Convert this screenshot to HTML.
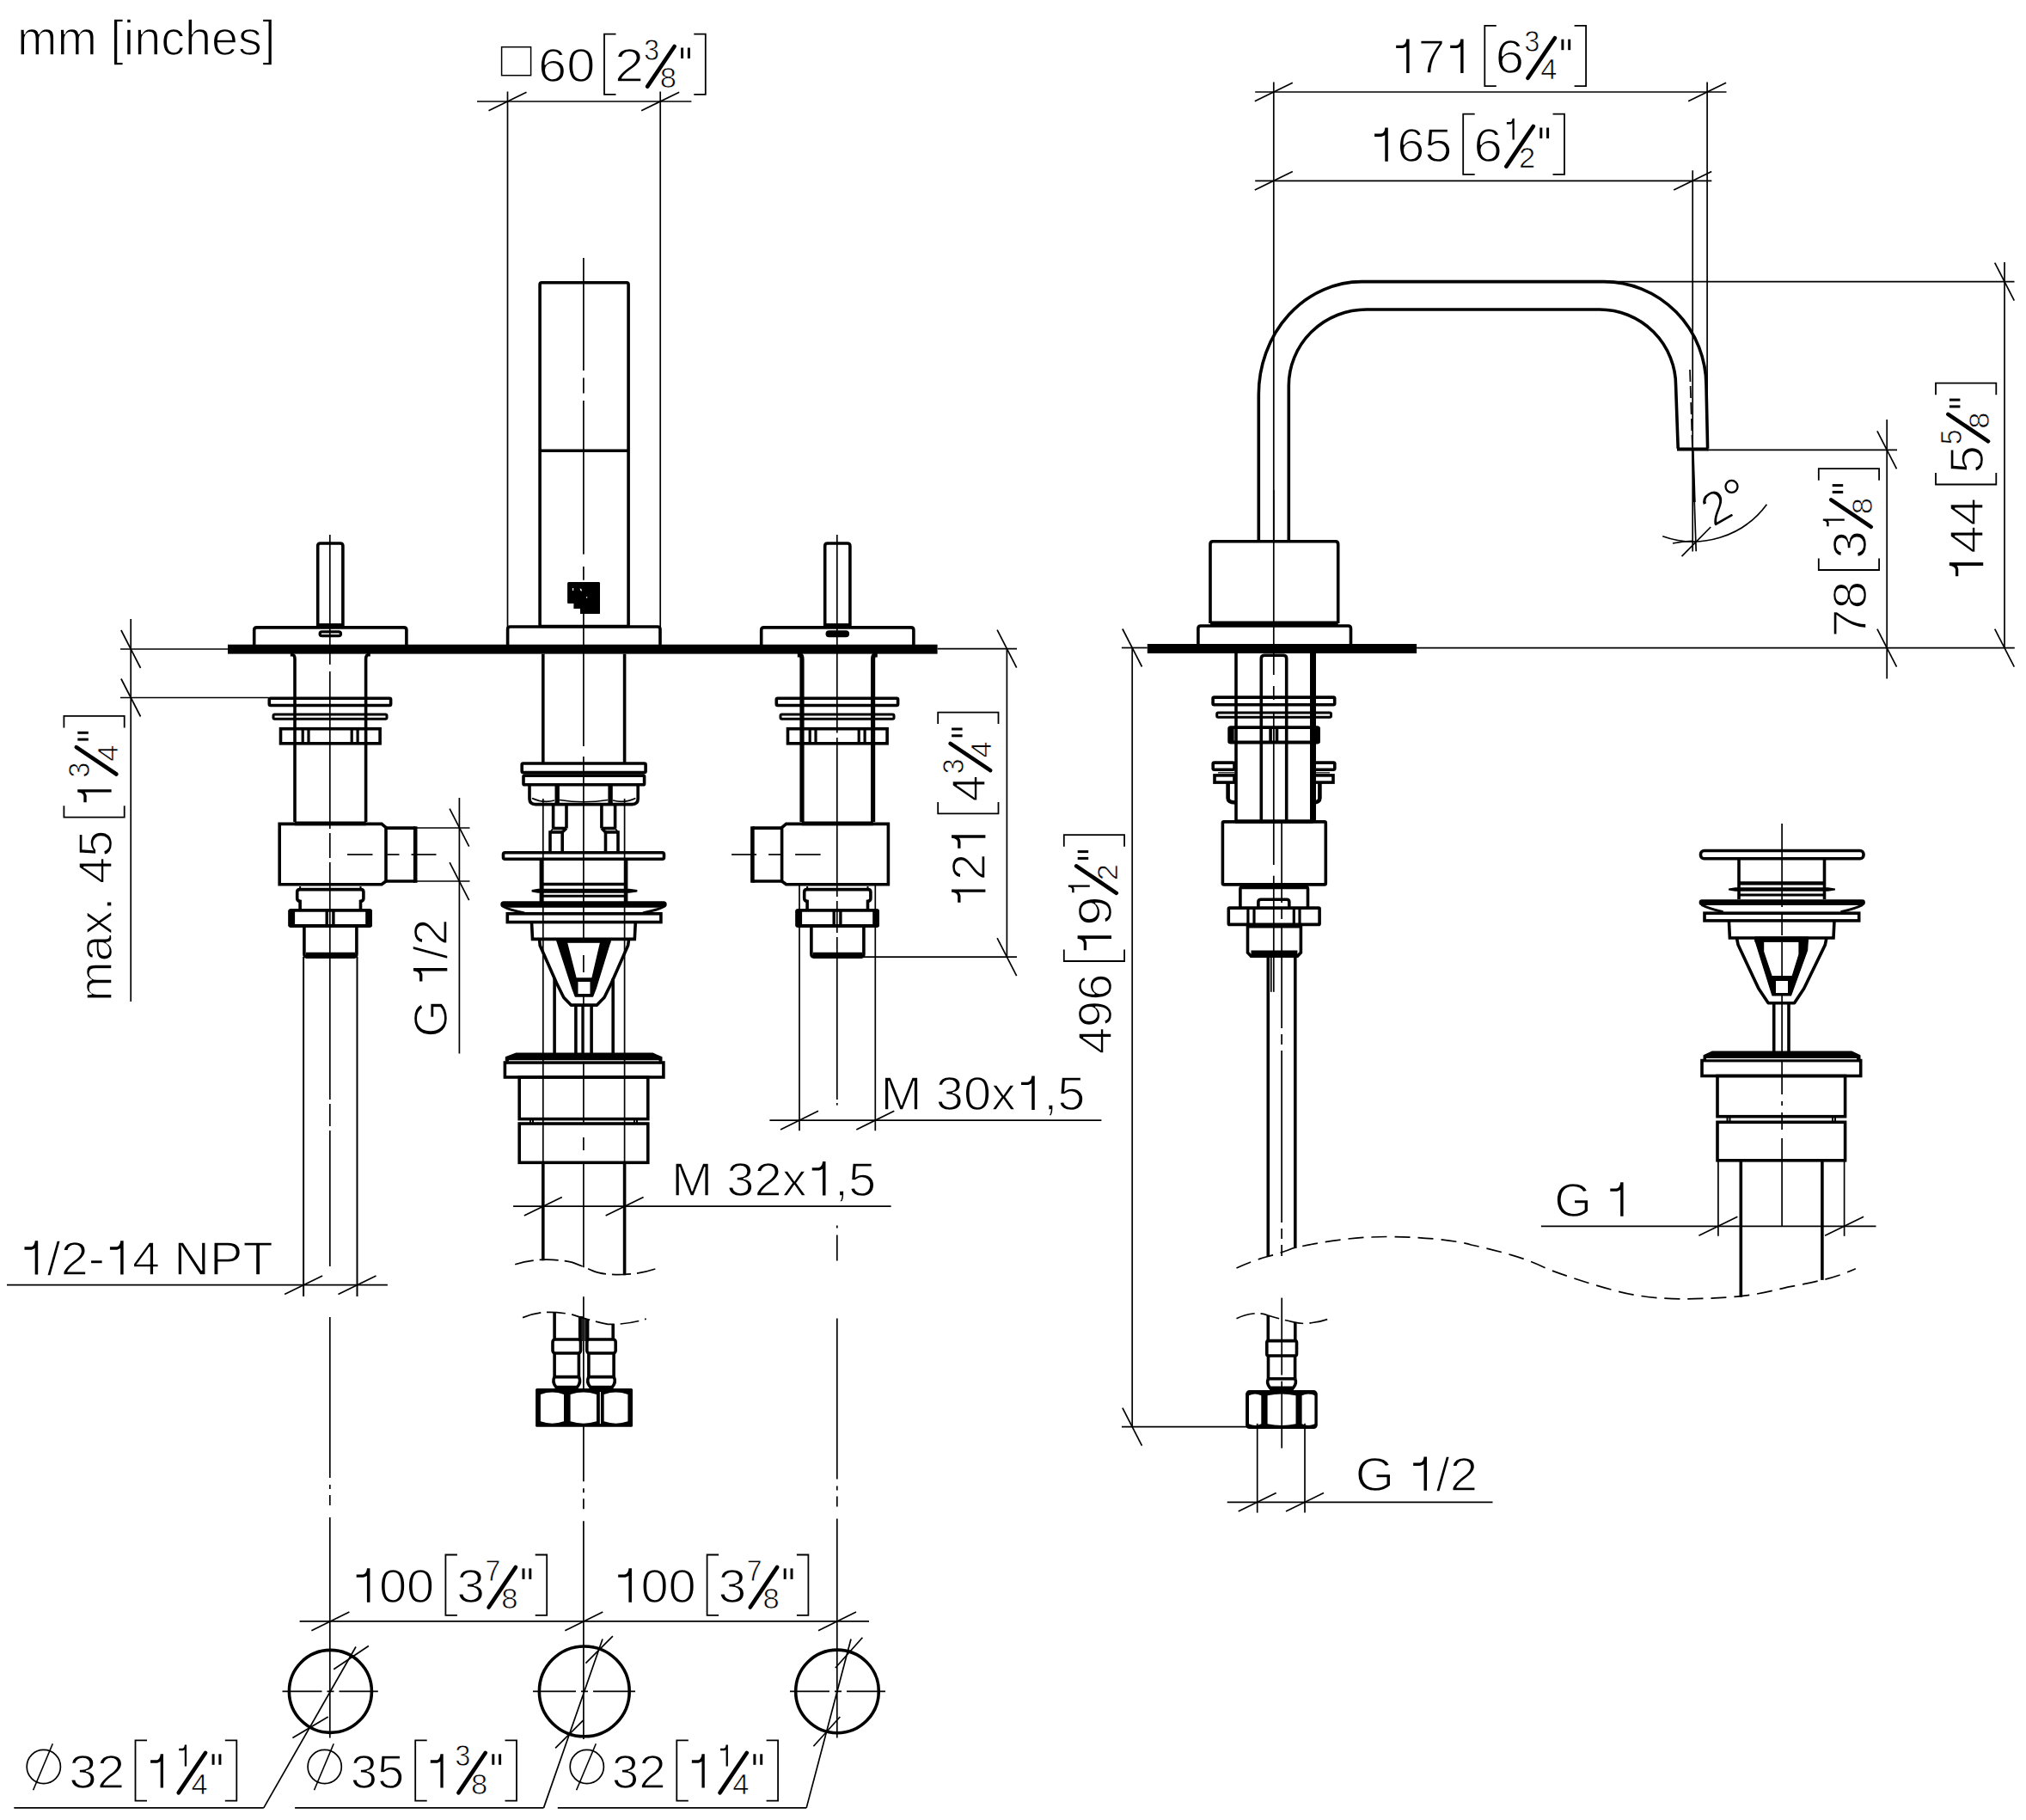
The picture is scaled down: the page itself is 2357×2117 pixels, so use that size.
<!DOCTYPE html><html><head><meta charset="utf-8"><title>drawing</title><style>html,body{margin:0;padding:0;background:#fff}svg{display:block}</style></head><body><svg width="2357" height="2117" viewBox="0 0 2357 2117" stroke="#000" fill="#000" font-family="Liberation Sans, sans-serif" shape-rendering="geometricPrecision"><style>text{stroke:#fff;stroke-width:1.4px;paint-order:normal} text.sm{stroke-width:0.7px}</style><g transform="translate(23.7,64.0) rotate(0)"><g transform="scale(0.9780,1)"><text x="-3.79" y="0" font-size="57">m</text><text x="43.70" y="0" font-size="57">m</text><text x="107.01" y="0" font-size="57">[</text><text x="122.85" y="0" font-size="57">i</text><text x="135.51" y="0" font-size="57">n</text><text x="167.21" y="0" font-size="57">c</text><text x="195.71" y="0" font-size="57">h</text><text x="227.42" y="0" font-size="57">e</text><text x="259.12" y="0" font-size="57">s</text><text x="287.62" y="0" font-size="57">]</text></g></g>
<rect x="265.0" y="749.7" width="825.6" height="10.9" rx="0" stroke-width="0" fill="#000" stroke="none"/>
<path d="M369.7,728.5 V635 Q369.7,632 372.7,632 H395.90000000000003 Q398.90000000000003,632 398.90000000000003,635 V728.5" stroke-width="3.6" fill="none" />
<line x1="369.7" y1="727.3" x2="398.9" y2="727.3" stroke-width="4.4" />
<path d="M295.70000000000005,750 V733 Q295.70000000000005,729.9 298.70000000000005,729.9 H469.9 Q472.9,729.9 472.9,733 V750" stroke-width="3.6" fill="none" />
<rect x="372.1" y="734.8" width="24.4" height="4.8" rx="2.4" stroke-width="3.2" fill="none" />
<path d="M337.8,761.8000000000001 H340.8 Q343.0,762.4 343.0,766.6 V956" stroke-width="3.6" fill="none" />
<path d="M430.8,761.8000000000001 H427.8 Q425.6,762.4 425.6,766.6 V956" stroke-width="3.6" fill="none" />
<rect x="313.3" y="812.2" width="141.3" height="8.3" rx="1.5" stroke-width="3.6" fill="none" />
<rect x="318.0" y="831.0" width="132.0" height="5.2" rx="1.5" stroke-width="3" fill="none" />
<rect x="326.5" y="847.7" width="115.6" height="17.1" rx="0" stroke-width="3.6" fill="none" />
<line x1="352.2" y1="847.7" x2="352.2" y2="864.8" stroke-width="3.2" />
<line x1="359.0" y1="847.7" x2="359.0" y2="864.8" stroke-width="3.2" />
<line x1="409.2" y1="847.7" x2="409.2" y2="864.8" stroke-width="3.2" />
<line x1="416.1" y1="847.7" x2="416.1" y2="864.8" stroke-width="3.2" />
<path d="M325.2,958.4 L444.0,958.4 L449.0,962.5 L449.0,1025.0 L444.0,1028.8 L325.2,1028.8 Z" stroke-width="3.6" fill="none" />
<line x1="342.8" y1="957.8" x2="425.8" y2="957.8" stroke-width="4.8" />
<path d="M449.0,963.1 L483.2,963.1" stroke-width="3.6" fill="none" />
<path d="M449.0,1025.0 L483.2,1025.0" stroke-width="3.6" fill="none" />
<line x1="483.2" y1="961.3" x2="483.2" y2="1026.8" stroke-width="4.6" />
<line x1="404.0" y1="994.0" x2="433.5" y2="994.0" stroke-width="1.7" />
<line x1="450.5" y1="994.0" x2="464.5" y2="994.0" stroke-width="1.7" />
<line x1="478.5" y1="994.0" x2="507.5" y2="994.0" stroke-width="1.7" />
<path d="M348.7,1034.6 H419.90000000000003 Q422.90000000000003,1034.6 422.90000000000003,1037.6 V1045 Q422.90000000000003,1048 419.5,1048.4 V1058 M349.1,1058 V1048.4 Q345.7,1048 345.7,1045 V1037.6 Q345.7,1034.6 348.7,1034.6" stroke-width="3.6" fill="none" />
<line x1="349.1" y1="1031.0" x2="349.1" y2="1034.0" stroke-width="2" />
<line x1="419.5" y1="1031.0" x2="419.5" y2="1034.0" stroke-width="2" />
<rect x="337.3" y="1058.9" width="93.7" height="18.1" rx="1" stroke-width="3.8" fill="none" />
<rect x="335.4" y="1058.0" width="7.7" height="20.0" rx="1.5" stroke-width="0" fill="#000" stroke="none"/>
<rect x="425.2" y="1058.0" width="7.7" height="20.0" rx="1.5" stroke-width="0" fill="#000" stroke="none"/>
<line x1="380.2" y1="1058.0" x2="380.2" y2="1078.0" stroke-width="3.4" />
<line x1="387.9" y1="1058.0" x2="387.9" y2="1078.0" stroke-width="3.4" />
<path d="M353.90000000000003,1078 V1110 Q353.90000000000003,1113 356.90000000000003,1113 H411.90000000000003 Q414.90000000000003,1113 414.90000000000003,1110 V1078" stroke-width="3.6" fill="none" />
<line x1="355.8" y1="1111.3" x2="413.0" y2="1111.3" stroke-width="7" />
<path d="M959.6999999999999,728.5 V635 Q959.6999999999999,632 962.6999999999999,632 H985.9 Q988.9,632 988.9,635 V728.5" stroke-width="3.6" fill="none" />
<line x1="959.7" y1="727.3" x2="988.9" y2="727.3" stroke-width="4.4" />
<path d="M885.6999999999999,750 V733 Q885.6999999999999,729.9 888.6999999999999,729.9 H1059.8999999999999 Q1062.8999999999999,729.9 1062.8999999999999,733 V750" stroke-width="3.6" fill="none" />
<rect x="962.1" y="734.8" width="24.4" height="4.8" rx="2.4" stroke-width="3.2" fill="#000" />
<path d="M927.8,761.8000000000001 H930.8 Q933.0,762.4 933.0,766.6 V956" stroke-width="5.2" fill="none" />
<path d="M1020.8,761.8000000000001 H1017.8 Q1015.5999999999999,762.4 1015.5999999999999,766.6 V956" stroke-width="5.2" fill="none" />
<rect x="903.3" y="812.2" width="141.3" height="8.3" rx="1.5" stroke-width="3.6" fill="none" />
<rect x="908.0" y="831.0" width="132.0" height="5.2" rx="1.5" stroke-width="3" fill="none" />
<rect x="916.5" y="847.7" width="115.6" height="17.1" rx="0" stroke-width="3.6" fill="none" />
<line x1="942.2" y1="847.7" x2="942.2" y2="864.8" stroke-width="3.2" />
<line x1="949.0" y1="847.7" x2="949.0" y2="864.8" stroke-width="3.2" />
<line x1="999.2" y1="847.7" x2="999.2" y2="864.8" stroke-width="3.2" />
<line x1="1006.1" y1="847.7" x2="1006.1" y2="864.8" stroke-width="3.2" />
<path d="M1033.4,958.4 L914.6,958.4 L909.6,962.5 L909.6,1025.0 L914.6,1028.8 L1033.4,1028.8 Z" stroke-width="3.6" fill="none" />
<line x1="932.8" y1="957.8" x2="1015.8" y2="957.8" stroke-width="4.8" />
<path d="M909.6,963.1 L875.4,963.1" stroke-width="3.6" fill="none" />
<path d="M909.6,1025.0 L875.4,1025.0" stroke-width="3.6" fill="none" />
<line x1="875.4" y1="961.3" x2="875.4" y2="1026.8" stroke-width="4.6" />
<line x1="851.1" y1="994.0" x2="880.1" y2="994.0" stroke-width="1.7" />
<line x1="894.1" y1="994.0" x2="908.1" y2="994.0" stroke-width="1.7" />
<line x1="925.1" y1="994.0" x2="954.6" y2="994.0" stroke-width="1.7" />
<path d="M938.6999999999999,1034.6 H1009.9 Q1012.9,1034.6 1012.9,1037.6 V1045 Q1012.9,1048 1009.5,1048.4 V1058 M939.0999999999999,1058 V1048.4 Q935.6999999999999,1048 935.6999999999999,1045 V1037.6 Q935.6999999999999,1034.6 938.6999999999999,1034.6" stroke-width="3.6" fill="none" />
<line x1="939.1" y1="1031.0" x2="939.1" y2="1034.0" stroke-width="2" />
<line x1="1009.5" y1="1031.0" x2="1009.5" y2="1034.0" stroke-width="2" />
<rect x="927.3" y="1058.9" width="93.7" height="18.1" rx="1" stroke-width="3.8" fill="none" />
<rect x="925.4" y="1058.0" width="7.7" height="20.0" rx="1.5" stroke-width="0" fill="#000" stroke="none"/>
<rect x="1015.2" y="1058.0" width="7.7" height="20.0" rx="1.5" stroke-width="0" fill="#000" stroke="none"/>
<line x1="970.2" y1="1058.0" x2="970.2" y2="1078.0" stroke-width="3.4" />
<line x1="977.9" y1="1058.0" x2="977.9" y2="1078.0" stroke-width="3.4" />
<path d="M943.9,1078 V1110 Q943.9,1113 946.9,1113 H1001.9 Q1004.9,1113 1004.9,1110 V1078" stroke-width="3.6" fill="none" />
<line x1="945.8" y1="1111.3" x2="1003.0" y2="1111.3" stroke-width="7" />
<line x1="353.1" y1="1113.0" x2="353.1" y2="1508.0" stroke-width="2" />
<line x1="415.5" y1="1113.0" x2="415.5" y2="1508.0" stroke-width="2" />
<line x1="383.8" y1="622.0" x2="383.8" y2="773.0" stroke-width="1.7" />
<line x1="383.8" y1="781.0" x2="383.8" y2="964.0" stroke-width="1.7" />
<line x1="383.8" y1="969.0" x2="383.8" y2="998.0" stroke-width="1.7" />
<line x1="383.8" y1="1003.0" x2="383.8" y2="1279.0" stroke-width="1.7" />
<line x1="383.8" y1="1284.0" x2="383.8" y2="1310.0" stroke-width="1.7" />
<line x1="383.8" y1="1315.0" x2="383.8" y2="1473.0" stroke-width="1.7" />
<line x1="383.8" y1="1532.0" x2="383.8" y2="2021.5" stroke-width="1.7" stroke-dasharray="187 8 5 7 12 14 400"/>
<line x1="930.0" y1="1030.0" x2="930.0" y2="1315.3" stroke-width="1.7" />
<line x1="1018.3" y1="1030.0" x2="1018.3" y2="1315.3" stroke-width="1.7" />
<line x1="973.8" y1="622.0" x2="973.8" y2="852.5" stroke-width="1.7" />
<line x1="973.8" y1="858.0" x2="973.8" y2="1043.0" stroke-width="1.7" />
<line x1="973.8" y1="1048.0" x2="973.8" y2="1085.0" stroke-width="1.7" />
<line x1="973.8" y1="1090.0" x2="973.8" y2="1279.0" stroke-width="1.7" />
<line x1="973.8" y1="1283.0" x2="973.8" y2="1285.6" stroke-width="1.7" />
<line x1="973.8" y1="1425.4" x2="973.8" y2="1474.3" stroke-width="1.7" stroke-dasharray="3 8 30 8 3"/>
<line x1="973.8" y1="1533.5" x2="973.8" y2="2021.5" stroke-width="1.7" stroke-dasharray="187 8 5 7 12 14 400"/>
<line x1="678.9" y1="300.0" x2="678.9" y2="431.0" stroke-width="1.7" />
<line x1="678.9" y1="439.5" x2="678.9" y2="457.5" stroke-width="1.7" />
<line x1="678.9" y1="466.0" x2="678.9" y2="644.7" stroke-width="1.7" />
<line x1="678.9" y1="659.0" x2="678.9" y2="674.8" stroke-width="1.7" />
<line x1="678.9" y1="713.8" x2="678.9" y2="868.0" stroke-width="1.7" />
<line x1="678.9" y1="880.0" x2="678.9" y2="1095.0" stroke-width="1.7" />
<line x1="678.9" y1="1111.0" x2="678.9" y2="1131.0" stroke-width="1.7" />
<line x1="678.9" y1="1141.0" x2="678.9" y2="1305.5" stroke-width="1.7" />
<line x1="678.9" y1="1323.0" x2="678.9" y2="1338.0" stroke-width="1.7" />
<line x1="678.9" y1="1352.0" x2="678.9" y2="1474.3" stroke-width="1.7" />
<line x1="678.9" y1="1508.3" x2="678.9" y2="2023.0" stroke-width="1.7" stroke-dasharray="215 8 5 7 12 14 400"/>
<rect x="628.1" y="328.7" width="103.0" height="399.8" rx="2" stroke-width="3.6" fill="none" />
<line x1="628.1" y1="524.2" x2="731.1" y2="524.2" stroke-width="3.6" />
<path d="M661.5,677 H697 Q698,677 698,678.5 V713.9 H675 V708 H667.4 V702 H661 Q660.1,702 660.1,700.5 V678.5 Q660.1,677 661.5,677 Z" fill="#000" stroke="none"/>
<path d="M666,684 h1.2 v3 h-1.2z M674.5,684.5 l1.8,0.5 l0.8,2.6 l-1.6,-0.4z M682.2,694 h1 v1.8 h-1z" fill="#fff" stroke="none"/>
<path d="M590.6,750 V732 Q590.6,729 593.6,729 H765 Q768,729 768,732 V750" stroke-width="3.6" fill="none" />
<line x1="631.8" y1="760.6" x2="631.8" y2="888.0" stroke-width="3.6" />
<line x1="726.6" y1="760.6" x2="726.6" y2="888.0" stroke-width="3.6" />
<rect x="607.2" y="888.0" width="143.9" height="10.6" rx="1.5" stroke-width="3.6" fill="none" />
<line x1="609.0" y1="901.5" x2="749.6" y2="901.5" stroke-width="2" />
<rect x="609.0" y="902.3" width="140.6" height="10.5" rx="1" stroke-width="3.6" fill="none" />
<path d="M616,912.8 V929 Q616,935.6 623,935.6 H735.2 Q742.2,935.6 742.2,929 V912.8" stroke-width="3.6" fill="none" />
<line x1="648.2" y1="912.8" x2="648.2" y2="934.0" stroke-width="5.4" />
<line x1="710.1" y1="912.8" x2="710.1" y2="934.0" stroke-width="5.4" />
<path d="M618.9,928.5 Q632,934.5 645,931 M651,930.5 Q679,935 707.4,930.5 M713,931 Q727,934.5 739.4,928.5" stroke-width="1.7" fill="none" />
<path d="M643.6,935.6 L643.6,963.5" stroke-width="3.6" fill="none" />
<path d="M659.0,935.6 L659.0,963.5" stroke-width="3.6" fill="none" />
<path d="M643.6,963.5 L659.0,963.5" stroke-width="3.6" fill="none" />
<path d="M640.0,991.7 L640.0,968.0 L654.2,968.0 L654.2,991.7" stroke-width="3.6" fill="none" />
<path d="M699.9,935.6 L699.9,963.5" stroke-width="3.6" fill="none" />
<path d="M715.6,935.6 L715.6,963.5" stroke-width="3.6" fill="none" />
<path d="M699.9,963.5 L715.6,963.5" stroke-width="3.6" fill="none" />
<path d="M704.5,991.7 L704.5,968.0 L719.0,968.0 L719.0,991.7" stroke-width="3.6" fill="none" />
<path d="M659.0,963.5 L654.2,968.0" stroke-width="3.6" fill="none" />
<path d="M643.6,963.5 L640.0,968.0" stroke-width="2" fill="none" />
<path d="M699.9,963.5 L704.5,968.0" stroke-width="3.6" fill="none" />
<path d="M715.6,963.5 L719.0,968.0" stroke-width="2" fill="none" />
<line x1="631.8" y1="929.0" x2="631.8" y2="1225.5" stroke-width="1.7" />
<line x1="726.6" y1="929.0" x2="726.6" y2="1225.5" stroke-width="1.7" />
<rect x="585.5" y="991.7" width="187.0" height="7.6" rx="2" stroke-width="3.6" fill="none" />
<line x1="629.4" y1="999.3" x2="629.4" y2="1049.5" stroke-width="3.6" />
<line x1="728.6" y1="999.3" x2="728.6" y2="1049.5" stroke-width="3.6" />
<line x1="629.4" y1="1028.5" x2="728.6" y2="1028.5" stroke-width="3.6" />
<path d="M618.8,1036.3 L626,1035 H732 L741.2,1036.3 L732,1037.6 H626 Z" stroke-width="2.4" fill="#000" />
<line x1="629.4" y1="1042.3" x2="728.6" y2="1042.3" stroke-width="3" />
<path d="M586,1052 H772" stroke-width="7.4" fill="none" stroke-linecap="round"/>
<path d="M585.5,1054.5 Q593,1058.5 610,1062 M772.5,1054.5 Q765,1058.5 748,1062" stroke-width="3" fill="none" />
<rect x="590.3" y="1062.8" width="178.6" height="9.8" rx="0" stroke-width="3.6" fill="none" />
<path d="M618.5,1072.6 L619.5,1092.4 L738.3,1092.4 L739.3,1072.6" stroke-width="3.6" fill="none" />
<path d="M627.6,1092.5 L628.2,1099.8 L647.4,1143.3 L655.8,1160.2 L664.3,1169.1 L694.5,1169.1 L703.0,1160.2 L711.4,1143.3 L730.6,1099.8 L731.6,1092.5" stroke-width="3.6" fill="none" stroke-linejoin="round"/>
<rect x="648.0" y="1091.0" width="62.4" height="5.8" rx="0" stroke-width="0" fill="#000" stroke="none"/>
<path d="M647.5,1093 L658.5,1093 L670,1138 L689,1138 L699.5,1093 L710.5,1093 L693,1150 L689.5,1159 H669.4 L666,1150 Z" fill="#000" stroke="#000" stroke-width="1.5" stroke-linejoin="round"/>
<path d="M672.5,1142 H686.5 V1156 H672.5Z" fill="#fff" stroke="none"/>
<line x1="645.1" y1="1138.3" x2="645.1" y2="1225.5" stroke-width="3.6" />
<line x1="713.2" y1="1138.3" x2="713.2" y2="1225.5" stroke-width="3.6" />
<line x1="669.9" y1="1168.8" x2="669.9" y2="1225.5" stroke-width="3.6" />
<line x1="688.1" y1="1168.8" x2="688.1" y2="1225.5" stroke-width="3.6" />
<line x1="677.2" y1="1168.8" x2="677.2" y2="1225.5" stroke-width="1.7" />
<path d="M600.7,1225.5 H759.1 L769.5,1230 V1233.8 H588.8 V1230 Z" fill="#000" stroke="#000" stroke-width="2" stroke-linejoin="round"/>
<rect x="587.4" y="1236.0" width="184.5" height="17.0" rx="0" stroke-width="3.6" fill="none" />
<line x1="592.0" y1="1233.7" x2="766.5" y2="1233.7" stroke-width="1.1" stroke="#fff"/>
<rect x="604.2" y="1253.0" width="149.6" height="48.6" rx="0" stroke-width="3.6" fill="none" />
<line x1="617.0" y1="1301.6" x2="617.0" y2="1307.0" stroke-width="2" />
<line x1="620.0" y1="1301.6" x2="620.0" y2="1307.0" stroke-width="2" />
<line x1="738.0" y1="1301.6" x2="738.0" y2="1307.0" stroke-width="2" />
<line x1="741.0" y1="1301.6" x2="741.0" y2="1307.0" stroke-width="2" />
<rect x="604.2" y="1307.0" width="149.6" height="45.3" rx="0" stroke-width="3.6" fill="none" />
<line x1="631.8" y1="1233.0" x2="631.8" y2="1352.0" stroke-width="1.7" />
<line x1="726.6" y1="1233.0" x2="726.6" y2="1352.0" stroke-width="1.7" />
<line x1="631.8" y1="1352.3" x2="631.8" y2="1466.3" stroke-width="3.6" />
<line x1="726.6" y1="1352.3" x2="726.6" y2="1483.2" stroke-width="3.6" />
<path d="M599.2,1470.7 Q616,1465.5 633.3,1465.2 T665.8,1468.4 Q678,1473 689.5,1478.1 T725.1,1482.5 Q745,1482 764.5,1475.2" stroke-width="1.7" fill="none" stroke-dasharray="22 7"/>
<path d="M608.1,1532.6 Q620,1527.5 633.3,1526.5 T665.8,1529.1 Q686,1536 707.3,1540.3 Q730,1541 751.7,1534.1" stroke-width="1.7" fill="none" stroke-dasharray="22 7"/>
<line x1="645.1" y1="1526.5" x2="645.1" y2="1558.0" stroke-width="3.6" />
<line x1="674.7" y1="1531.0" x2="674.7" y2="1558.0" stroke-width="3.6" />
<line x1="683.6" y1="1534.0" x2="683.6" y2="1558.0" stroke-width="3.6" />
<line x1="713.2" y1="1540.0" x2="713.2" y2="1558.0" stroke-width="3.6" />
<line x1="677.0" y1="1531.0" x2="677.0" y2="1560.0" stroke-width="1.7" />
<line x1="681.0" y1="1533.0" x2="681.0" y2="1560.0" stroke-width="1.7" />
<rect x="643.0" y="1558.0" width="32.5" height="16.0" rx="3" stroke-width="3.6" fill="none" />
<line x1="645.1" y1="1574.0" x2="645.1" y2="1601.6" stroke-width="3.6" />
<line x1="673.4" y1="1574.0" x2="673.4" y2="1601.6" stroke-width="3.6" />
<path d="M645,1601.6 H673.5 M645,1601.6 Q642,1608 647,1613.5 H671.5 Q676.5,1608 673.5,1601.6" stroke-width="3.6" fill="none" />
<rect x="682.8" y="1558.0" width="33.4" height="16.0" rx="3" stroke-width="3.6" fill="none" />
<line x1="684.9" y1="1574.0" x2="684.9" y2="1601.6" stroke-width="3.6" />
<line x1="714.1" y1="1574.0" x2="714.1" y2="1601.6" stroke-width="3.6" />
<path d="M684.8,1601.6 H714.2 M684.8,1601.6 Q681.8,1608 686.8,1613.5 H712.2 Q717.2,1608 714.2,1601.6" stroke-width="3.6" fill="none" />
<rect x="623.1" y="1615.1" width="112.9" height="44.7" rx="1.5" stroke-width="0" fill="#000" stroke="none"/>
<path d="M628.9,1622.0 Q642.5,1617.1 656.0,1622.0 V1653.2 Q642.5,1658.1 628.9,1653.2 Z" fill="#fff" stroke="none"/>
<path d="M663.6,1622.0 Q678.8,1617.1 694.0,1622.0 V1653.2 Q678.8,1658.1 663.6,1653.2 Z" fill="#fff" stroke="none"/>
<path d="M702.7,1622.0 Q716.5,1617.1 730.4,1622.0 V1653.2 Q716.5,1658.1 702.7,1653.2 Z" fill="#fff" stroke="none"/>
<line x1="698.4" y1="1619.0" x2="698.4" y2="1656.0" stroke-width="1.1" stroke="#fff"/>
<circle cx="384.4" cy="1967.4" r="48.0" stroke-width="3.6" fill="none"/>
<circle cx="679.8" cy="1967.4" r="52.4" stroke-width="3.6" fill="none"/>
<circle cx="974.0" cy="1967.4" r="48.3" stroke-width="3.6" fill="none"/>
<line x1="328.5" y1="1967.4" x2="439.8" y2="1967.4" stroke-width="1.7" stroke-dasharray="46 6 8 6"/>
<line x1="620.0" y1="1967.4" x2="739.0" y2="1967.4" stroke-width="1.7" stroke-dasharray="50 6 8 6"/>
<line x1="919.0" y1="1967.4" x2="1030.0" y2="1967.4" stroke-width="1.7" stroke-dasharray="46 6 8 6"/>
<line x1="590.5" y1="106.6" x2="590.5" y2="750.0" stroke-width="1.7" />
<line x1="768.2" y1="106.6" x2="768.2" y2="750.0" stroke-width="1.7" />
<line x1="555.0" y1="118.0" x2="804.4" y2="118.0" stroke-width="1.7" />
<line x1="568.5" y1="128.8" x2="612.5" y2="107.2" stroke-width="1.7" />
<line x1="746.2" y1="128.8" x2="790.2" y2="107.2" stroke-width="1.7" />
<rect x="583.6" y="54.7" width="34.0" height="33.0" rx="0" stroke-width="1.5" fill="none" />
<g transform="translate(629.0,94.8) rotate(0)"><g transform="scale(1.0847,1)"><text x="-2.79" y="0" font-size="55">6</text><text x="27.80" y="0" font-size="55">0</text></g><path d="M87.5,-55.2 H74.0 V15.1 H87.5" stroke-width="1.8" fill="none"/><g transform="translate(89.2,0)"><g transform="scale(1.1175,1)"><text x="-2.77" y="0" font-size="55">2</text></g></g><g transform="translate(121.4,-25.2) scale(1,1.09)"><g transform="scale(1.0000,1)"><text x="-1.22" y="0" font-size="32" class="sm">3</text></g></g><g transform="translate(140.3,7.0) scale(1.08,1.06)"><g transform="scale(1.0000,1)"><text x="-1.39" y="0" font-size="32" class="sm">8</text></g></g><line x1="124.2" y1="5.8" x2="155.6" y2="-40.8" stroke-width="4.6" stroke-linecap="round"/><line x1="164.6" y1="-39.3" x2="164.6" y2="-26.8" stroke-width="3"/><line x1="172.4" y1="-39.3" x2="172.4" y2="-26.8" stroke-width="3"/><path d="M178.3,-55.2 H191.8 V15.1 H178.3" stroke-width="1.8" fill="none"/></g>
<line x1="152.2" y1="720.0" x2="152.2" y2="1165.0" stroke-width="1.7" />
<line x1="140.0" y1="755.0" x2="265.0" y2="755.0" stroke-width="1.7" />
<line x1="140.0" y1="811.5" x2="312.7" y2="811.5" stroke-width="1.7" />
<line x1="140.9" y1="733.0" x2="163.5" y2="777.0" stroke-width="1.7" />
<line x1="140.9" y1="789.5" x2="163.5" y2="833.5" stroke-width="1.7" />
<g transform="translate(129.6,1161.4) rotate(-90)"><g transform="scale(1.0196,1)"><text x="-3.65" y="0" font-size="55">m</text><text x="42.16" y="0" font-size="55">a</text><text x="72.75" y="0" font-size="55">x</text><text x="100.25" y="0" font-size="55">.</text><text x="130.81" y="0" font-size="55">4</text><text x="161.40" y="0" font-size="55">5</text></g><path d="M224.2,-55.2 H210.7 V15.1 H224.2" stroke-width="1.8" fill="none"/><g transform="translate(228.1,0)"><g transform="scale(0.9954,1)"><path d="M13.47,0 V-39.38 M0.17,-30.58 H7.70 Q12.93,-31.62 13.47,-38.77" stroke-width="3.35" fill="none"/></g></g><g transform="translate(258.1,-25.2) scale(1,1.09)"><g transform="scale(1.0000,1)"><text x="-1.22" y="0" font-size="32" class="sm">3</text></g></g><g transform="translate(276.4,7.0) scale(1.08,1.06)"><g transform="scale(1.0000,1)"><text x="-0.73" y="0" font-size="32" class="sm">4</text></g></g><line x1="260.9" y1="5.8" x2="292.3" y2="-40.8" stroke-width="4.6" stroke-linecap="round"/><line x1="301.3" y1="-39.3" x2="301.3" y2="-26.8" stroke-width="3"/><line x1="309.1" y1="-39.3" x2="309.1" y2="-26.8" stroke-width="3"/><path d="M315.0,-55.2 H328.5 V15.1 H315.0" stroke-width="1.8" fill="none"/></g>
<line x1="534.4" y1="928.0" x2="534.4" y2="1225.5" stroke-width="1.7" />
<line x1="483.7" y1="963.0" x2="546.5" y2="963.0" stroke-width="1.7" />
<line x1="483.7" y1="1025.0" x2="546.5" y2="1025.0" stroke-width="1.7" />
<line x1="523.1" y1="940.6" x2="545.7" y2="984.6" stroke-width="1.7" />
<line x1="523.1" y1="1003.2" x2="545.7" y2="1047.2" stroke-width="1.7" />
<g transform="translate(520.3,1204.0) rotate(-90)"><g transform="scale(1.0273,1)"><text x="-2.77" y="0" font-size="55">G</text><path d="M74.27,0 V-39.38 M60.96,-30.58 H68.50 Q73.72,-31.62 74.27,-38.77" stroke-width="3.35" fill="none"/><text x="85.88" y="0" font-size="55">/</text><text x="101.16" y="0" font-size="55">2</text></g></g>
<line x1="1090.6" y1="754.6" x2="1183.0" y2="754.6" stroke-width="1.7" />
<line x1="1003.6" y1="1113.2" x2="1183.0" y2="1113.2" stroke-width="1.7" />
<line x1="1171.4" y1="754.6" x2="1171.4" y2="1113.2" stroke-width="1.7" />
<line x1="1160.1" y1="732.6" x2="1182.7" y2="776.6" stroke-width="1.7" />
<line x1="1160.1" y1="1091.2" x2="1182.7" y2="1135.2" stroke-width="1.7" />
<g transform="translate(1146.4,1050.0) rotate(-90)"><g transform="scale(1.0310,1)"><path d="M13.47,0 V-39.38 M0.17,-30.58 H7.70 Q12.93,-31.62 13.47,-38.77" stroke-width="3.35" fill="none"/><text x="25.08" y="0" font-size="55">2</text><path d="M74.64,0 V-39.38 M61.33,-30.58 H68.87 Q74.09,-31.62 74.64,-38.77" stroke-width="3.35" fill="none"/></g><path d="M117.1,-55.2 H103.6 V15.1 H117.1" stroke-width="1.8" fill="none"/><g transform="translate(118.8,0)"><g transform="scale(1.0103,1)"><text x="-1.26" y="0" font-size="55">4</text></g></g><g transform="translate(151.0,-25.2) scale(1,1.09)"><g transform="scale(1.0000,1)"><text x="-1.22" y="0" font-size="32" class="sm">3</text></g></g><g transform="translate(169.3,7.0) scale(1.08,1.06)"><g transform="scale(1.0000,1)"><text x="-0.73" y="0" font-size="32" class="sm">4</text></g></g><line x1="153.8" y1="5.8" x2="185.2" y2="-40.8" stroke-width="4.6" stroke-linecap="round"/><line x1="194.2" y1="-39.3" x2="194.2" y2="-26.8" stroke-width="3"/><line x1="202.0" y1="-39.3" x2="202.0" y2="-26.8" stroke-width="3"/><path d="M207.9,-55.2 H221.4 V15.1 H207.9" stroke-width="1.8" fill="none"/></g>
<line x1="895.4" y1="1303.1" x2="1281.4" y2="1303.1" stroke-width="1.7" />
<line x1="908.0" y1="1313.9" x2="952.0" y2="1292.3" stroke-width="1.7" />
<line x1="996.3" y1="1313.9" x2="1040.3" y2="1292.3" stroke-width="1.7" />
<g transform="translate(1029.3,1291.0) rotate(0)"><g transform="scale(1.0515,1)"><text x="-4.51" y="0" font-size="55">M</text><text x="56.58" y="0" font-size="55">3</text><text x="87.17" y="0" font-size="55">0</text><text x="117.76" y="0" font-size="55">x</text><path d="M164.24,0 V-39.38 M150.93,-30.58 H158.46 Q163.69,-31.62 164.24,-38.77" stroke-width="3.35" fill="none"/><text x="175.84" y="0" font-size="55">,</text><text x="191.12" y="0" font-size="55">5</text></g></g>
<line x1="597.1" y1="1403.2" x2="1036.6" y2="1403.2" stroke-width="1.7" />
<line x1="609.8" y1="1414.0" x2="653.8" y2="1392.4" stroke-width="1.7" />
<line x1="704.6" y1="1414.0" x2="748.6" y2="1392.4" stroke-width="1.7" />
<g transform="translate(785.8,1390.5) rotate(0)"><g transform="scale(1.0529,1)"><text x="-4.51" y="0" font-size="55">M</text><text x="56.58" y="0" font-size="55">3</text><text x="87.17" y="0" font-size="55">2</text><text x="117.76" y="0" font-size="55">x</text><path d="M164.24,0 V-39.38 M150.93,-30.58 H158.46 Q163.69,-31.62 164.24,-38.77" stroke-width="3.35" fill="none"/><text x="175.84" y="0" font-size="55">,</text><text x="191.12" y="0" font-size="55">5</text></g></g>
<line x1="8.0" y1="1494.7" x2="450.9" y2="1494.7" stroke-width="1.7" />
<line x1="331.1" y1="1505.5" x2="375.1" y2="1483.9" stroke-width="1.7" />
<line x1="393.5" y1="1505.5" x2="437.5" y2="1483.9" stroke-width="1.7" />
<g transform="translate(28.3,1482.6) rotate(0)"><g transform="scale(1.0494,1)"><path d="M13.47,0 V-39.38 M0.17,-30.58 H7.70 Q12.93,-31.62 13.47,-38.77" stroke-width="3.35" fill="none"/><text x="25.08" y="0" font-size="55">/</text><text x="40.36" y="0" font-size="55">2</text><text x="70.95" y="0" font-size="55">-</text><path d="M108.24,0 V-39.38 M94.93,-30.58 H102.46 Q107.69,-31.62 108.24,-38.77" stroke-width="3.35" fill="none"/><text x="119.84" y="0" font-size="55">4</text><text x="165.71" y="0" font-size="55">N</text><text x="205.43" y="0" font-size="55">P</text><text x="242.12" y="0" font-size="55">T</text></g></g>
<line x1="348.6" y1="1885.9" x2="1011.0" y2="1885.9" stroke-width="1.7" />
<line x1="362.4" y1="1896.7" x2="406.4" y2="1875.1" stroke-width="1.7" />
<line x1="657.3" y1="1896.7" x2="701.3" y2="1875.1" stroke-width="1.7" />
<line x1="952.0" y1="1896.7" x2="996.0" y2="1875.1" stroke-width="1.7" />
<g transform="translate(414.5,1863.7) rotate(0)"><g transform="scale(1.0522,1)"><path d="M13.47,0 V-39.38 M0.17,-30.58 H7.70 Q12.93,-31.62 13.47,-38.77" stroke-width="3.35" fill="none"/><text x="25.08" y="0" font-size="55">0</text><text x="55.67" y="0" font-size="55">0</text></g><path d="M117.4,-55.2 H103.9 V15.1 H117.4" stroke-width="1.8" fill="none"/><g transform="translate(119.1,0)"><g transform="scale(1.0738,1)"><text x="-2.09" y="0" font-size="55">3</text></g></g><g transform="translate(151.6,-25.2) scale(1,1.09)"><g transform="scale(1.0000,1)"><text x="-1.64" y="0" font-size="32" class="sm">7</text></g></g><g transform="translate(170.2,7.0) scale(1.08,1.06)"><g transform="scale(1.0000,1)"><text x="-1.39" y="0" font-size="32" class="sm">8</text></g></g><line x1="154.1" y1="5.8" x2="185.5" y2="-40.8" stroke-width="4.6" stroke-linecap="round"/><line x1="194.5" y1="-39.3" x2="194.5" y2="-26.8" stroke-width="3"/><line x1="202.3" y1="-39.3" x2="202.3" y2="-26.8" stroke-width="3"/><path d="M208.2,-55.2 H221.7 V15.1 H208.2" stroke-width="1.8" fill="none"/></g>
<g transform="translate(719.0,1863.7) rotate(0)"><g transform="scale(1.0522,1)"><path d="M13.47,0 V-39.38 M0.17,-30.58 H7.70 Q12.93,-31.62 13.47,-38.77" stroke-width="3.35" fill="none"/><text x="25.08" y="0" font-size="55">0</text><text x="55.67" y="0" font-size="55">0</text></g><path d="M117.1,-55.2 H103.6 V15.1 H117.1" stroke-width="1.8" fill="none"/><g transform="translate(118.8,0)"><g transform="scale(1.0738,1)"><text x="-2.09" y="0" font-size="55">3</text></g></g><g transform="translate(151.3,-25.2) scale(1,1.09)"><g transform="scale(1.0000,1)"><text x="-1.64" y="0" font-size="32" class="sm">7</text></g></g><g transform="translate(169.9,7.0) scale(1.08,1.06)"><g transform="scale(1.0000,1)"><text x="-1.39" y="0" font-size="32" class="sm">8</text></g></g><line x1="153.8" y1="5.8" x2="185.2" y2="-40.8" stroke-width="4.6" stroke-linecap="round"/><line x1="194.2" y1="-39.3" x2="194.2" y2="-26.8" stroke-width="3"/><line x1="202.0" y1="-39.3" x2="202.0" y2="-26.8" stroke-width="3"/><path d="M207.9,-55.2 H221.4 V15.1 H207.9" stroke-width="1.8" fill="none"/></g>
<g transform="translate(82.5,2079.6) rotate(0)"><circle cx="-31.7" cy="-24.6" r="19.6" stroke-width="1.7" fill="none"/><line x1="-43.9" y1="2.7" x2="-21.2" y2="-51.3" stroke-width="1.6"/><g transform="scale(1.0619,1)"><text x="-2.09" y="0" font-size="55">3</text><text x="28.49" y="0" font-size="55">2</text></g><path d="M88.5,-55.2 H75.0 V15.1 H88.5" stroke-width="1.8" fill="none"/><g transform="translate(92.4,0)"><g transform="scale(0.9954,1)"><path d="M13.47,0 V-39.38 M0.17,-30.58 H7.70 Q12.93,-31.62 13.47,-38.77" stroke-width="3.35" fill="none"/></g></g><g transform="translate(125.6,-25.2) scale(1,1.09)"><g transform="scale(1.0000,1)"><path d="M7.84,0 V-22.91 M0.10,-17.79 H4.48 Q7.52,-18.40 7.84,-22.56" stroke-width="2.30" fill="none"/></g></g><g transform="translate(140.7,7.0) scale(1.08,1.06)"><g transform="scale(1.0000,1)"><text x="-0.73" y="0" font-size="32" class="sm">4</text></g></g><line x1="125.2" y1="5.8" x2="156.6" y2="-40.8" stroke-width="4.6" stroke-linecap="round"/><line x1="165.6" y1="-39.3" x2="165.6" y2="-26.8" stroke-width="3"/><line x1="173.4" y1="-39.3" x2="173.4" y2="-26.8" stroke-width="3"/><path d="M179.3,-55.2 H192.8 V15.1 H179.3" stroke-width="1.8" fill="none"/></g>
<g transform="translate(409.9,2079.6) rotate(0)"><circle cx="-32.2" cy="-24.6" r="19.6" stroke-width="1.7" fill="none"/><line x1="-44.4" y1="2.7" x2="-21.7" y2="-51.3" stroke-width="1.6"/><g transform="scale(1.0234,1)"><text x="-2.09" y="0" font-size="55">3</text><text x="28.49" y="0" font-size="55">5</text></g><path d="M86.8,-55.2 H73.3 V15.1 H86.8" stroke-width="1.8" fill="none"/><g transform="translate(90.7,0)"><g transform="scale(0.9954,1)"><path d="M13.47,0 V-39.38 M0.17,-30.58 H7.70 Q12.93,-31.62 13.47,-38.77" stroke-width="3.35" fill="none"/></g></g><g transform="translate(120.7,-25.2) scale(1,1.09)"><g transform="scale(1.0000,1)"><text x="-1.22" y="0" font-size="32" class="sm">3</text></g></g><g transform="translate(139.6,7.0) scale(1.08,1.06)"><g transform="scale(1.0000,1)"><text x="-1.39" y="0" font-size="32" class="sm">8</text></g></g><line x1="123.5" y1="5.8" x2="154.9" y2="-40.8" stroke-width="4.6" stroke-linecap="round"/><line x1="163.9" y1="-39.3" x2="163.9" y2="-26.8" stroke-width="3"/><line x1="171.7" y1="-39.3" x2="171.7" y2="-26.8" stroke-width="3"/><path d="M177.6,-55.2 H191.1 V15.1 H177.6" stroke-width="1.8" fill="none"/></g>
<g transform="translate(714.0,2079.6) rotate(0)"><circle cx="-31.2" cy="-24.6" r="19.6" stroke-width="1.7" fill="none"/><line x1="-43.4" y1="2.7" x2="-20.7" y2="-51.3" stroke-width="1.6"/><g transform="scale(1.0299,1)"><text x="-2.09" y="0" font-size="55">3</text><text x="28.49" y="0" font-size="55">2</text></g><path d="M86.8,-55.2 H73.3 V15.1 H86.8" stroke-width="1.8" fill="none"/><g transform="translate(90.7,0)"><g transform="scale(0.9954,1)"><path d="M13.47,0 V-39.38 M0.17,-30.58 H7.70 Q12.93,-31.62 13.47,-38.77" stroke-width="3.35" fill="none"/></g></g><g transform="translate(123.9,-25.2) scale(1,1.09)"><g transform="scale(1.0000,1)"><path d="M7.84,0 V-22.91 M0.10,-17.79 H4.48 Q7.52,-18.40 7.84,-22.56" stroke-width="2.30" fill="none"/></g></g><g transform="translate(139.0,7.0) scale(1.08,1.06)"><g transform="scale(1.0000,1)"><text x="-0.73" y="0" font-size="32" class="sm">4</text></g></g><line x1="123.5" y1="5.8" x2="154.9" y2="-40.8" stroke-width="4.6" stroke-linecap="round"/><line x1="163.9" y1="-39.3" x2="163.9" y2="-26.8" stroke-width="3"/><line x1="171.7" y1="-39.3" x2="171.7" y2="-26.8" stroke-width="3"/><path d="M177.6,-55.2 H191.1 V15.1 H177.6" stroke-width="1.8" fill="none"/></g>
<line x1="16.3" y1="2102.9" x2="306.8" y2="2102.9" stroke-width="1.7" />
<line x1="306.8" y1="2102.9" x2="414.0" y2="1915.5" stroke-width="1.7" />
<line x1="388.2" y1="1941.7" x2="428.9" y2="1914.5" stroke-width="1.7" />
<line x1="340.4" y1="2021.5" x2="381.7" y2="1997.0" stroke-width="1.7" />
<line x1="343.1" y1="2102.9" x2="632.5" y2="2102.9" stroke-width="1.7" />
<line x1="632.5" y1="2102.9" x2="701.0" y2="1906.5" stroke-width="1.7" />
<line x1="646.1" y1="2033.4" x2="678.7" y2="2000.8" stroke-width="1.7" />
<line x1="681.4" y1="1934.6" x2="712.9" y2="1903.1" stroke-width="1.7" />
<line x1="648.8" y1="2102.9" x2="938.2" y2="2102.9" stroke-width="1.7" />
<line x1="938.2" y1="2102.9" x2="990.0" y2="1906.5" stroke-width="1.7" />
<line x1="946.4" y1="2031.2" x2="977.3" y2="1997.0" stroke-width="1.7" />
<line x1="971.9" y1="1940.0" x2="1003.4" y2="1904.7" stroke-width="1.7" />
<rect x="1334.8" y="749.0" width="313.3" height="11.0" rx="0" stroke-width="0" fill="#000" stroke="none"/>
<path d="M1464.3,629 V459 A120,131.4 0 0 1 1584.3,327.6 H1866 A119,121.1 0 0 1 1985,448.7 L1986.6,521.7" stroke-width="3.6" fill="none" />
<path d="M1499.3,629 V448.7 A90.3,88.7 0 0 1 1589.6,360 H1860.9 A88.7,88.7 0 0 1 1949.6,448.7 L1952.2,521.7" stroke-width="3.6" fill="none" />
<line x1="1951.0" y1="522.5" x2="1987.5" y2="522.5" stroke-width="4.0" />
<path d="M1408,725 V633 Q1408,629.7 1411,629.7 H1553.7 Q1556.7,629.7 1556.7,633 V725" stroke-width="3.6" fill="none" />
<line x1="1408.0" y1="725.0" x2="1556.7" y2="725.0" stroke-width="5" />
<path d="M1393.9,750 V731 Q1393.9,728 1397,728 H1568.5 Q1571.5,728 1571.5,731 V750" stroke-width="3.6" fill="none" />
<line x1="1438.0" y1="760.0" x2="1438.0" y2="955.0" stroke-width="3.6" />
<line x1="1527.5" y1="760.0" x2="1527.5" y2="955.0" stroke-width="7" />
<path d="M1467.3,955 V766 Q1467.3,762.3 1471,762.3 H1493 Q1496.7,762.3 1496.7,766 V955" stroke-width="3.6" fill="none" />
<rect x="1411.1" y="811.1" width="141.6" height="8.6" rx="1.5" stroke-width="3.6" fill="none" />
<rect x="1415.7" y="828.9" width="132.8" height="5.4" rx="1.5" stroke-width="3" fill="none" />
<rect x="1430.4" y="846.2" width="103.4" height="17.3" rx="1.5" stroke-width="3.8" fill="none" />
<rect x="1428.5" y="845.0" width="7.2" height="19.7" rx="1.5" stroke-width="0" fill="#000" stroke="none"/>
<rect x="1528.5" y="845.0" width="7.2" height="19.7" rx="1.5" stroke-width="0" fill="#000" stroke="none"/>
<line x1="1478.1" y1="846.0" x2="1478.1" y2="863.5" stroke-width="3.6" />
<line x1="1485.5" y1="846.0" x2="1485.5" y2="863.5" stroke-width="3.6" />
<line x1="1481.8" y1="846.0" x2="1481.8" y2="863.5" stroke-width="1.2" />
<rect x="1411.2" y="887.1" width="24.8" height="8.1" rx="1.5" stroke-width="3.6" fill="none" />
<rect x="1413.0" y="901.9" width="23.0" height="8.2" rx="0" stroke-width="3.6" fill="none" />
<line x1="1417.0" y1="898.8" x2="1436.0" y2="898.8" stroke-width="1.2" />
<path d="M1428.6,910.7 V928.5 Q1428.8,933.4 1437,933.4" stroke-width="4.6" fill="none" />
<rect x="1528.0" y="887.1" width="24.8" height="8.1" rx="1.5" stroke-width="3.6" fill="none" />
<rect x="1528.0" y="901.9" width="23.0" height="8.2" rx="0" stroke-width="3.6" fill="none" />
<line x1="1528.0" y1="898.8" x2="1547.0" y2="898.8" stroke-width="1.2" />
<path d="M1535.4,910.7 V928.5 Q1535.2,933.4 1527.4,933.4" stroke-width="4.6" fill="none" />
<rect x="1422.4" y="955.9" width="119.9" height="73.0" rx="1.5" stroke-width="3.6" fill="none" />
<line x1="1437.0" y1="955.5" x2="1527.5" y2="955.5" stroke-width="4.4" />
<path d="M1442.9,1056 V1034 Q1442.9,1031.4 1446,1031.4 H1518.5 Q1521.5,1031.4 1521.5,1034 V1056" stroke-width="3.6" fill="none" />
<line x1="1444.0" y1="1031.8" x2="1520.0" y2="1031.8" stroke-width="5" />
<path d="M1463.9,1056 V1049 Q1463.9,1046.2 1467,1046.2 H1496.8 Q1499.8,1046.2 1499.8,1049 V1056" stroke-width="3.6" fill="none" />
<rect x="1429.3" y="1056.1" width="105.8" height="19.3" rx="1" stroke-width="3.6" fill="none" />
<line x1="1451.9" y1="1056.1" x2="1451.9" y2="1075.4" stroke-width="3.2" />
<line x1="1459.0" y1="1056.1" x2="1459.0" y2="1075.4" stroke-width="3.2" />
<line x1="1505.3" y1="1056.1" x2="1505.3" y2="1075.4" stroke-width="3.2" />
<line x1="1512.0" y1="1056.1" x2="1512.0" y2="1075.4" stroke-width="3.2" />
<path d="M1451.5,1075.4 L1451.5,1108.0 L1455.5,1112.3 L1509.4,1112.3 L1513.4,1108.0 L1513.4,1075.4" stroke-width="3.6" fill="none" />
<line x1="1455.5" y1="1109.6" x2="1509.4" y2="1109.6" stroke-width="8" />
<line x1="1451.5" y1="1077.0" x2="1513.4" y2="1077.0" stroke-width="5" />
<line x1="1475.3" y1="1112.0" x2="1475.3" y2="1461.5" stroke-width="3.6" />
<line x1="1506.8" y1="1112.0" x2="1506.8" y2="1452.0" stroke-width="3.6" />
<line x1="1478.8" y1="1112.0" x2="1478.8" y2="1153.8" stroke-width="1.7" />
<line x1="1481.8" y1="95.5" x2="1481.8" y2="760.0" stroke-width="1.7" />
<line x1="1481.8" y1="760.0" x2="1481.8" y2="785.0" stroke-width="1.7" />
<line x1="1481.8" y1="798.0" x2="1481.8" y2="814.0" stroke-width="1.7" />
<line x1="1481.8" y1="830.0" x2="1481.8" y2="1006.0" stroke-width="1.7" />
<line x1="1481.8" y1="1018.7" x2="1481.8" y2="1153.8" stroke-width="1.7" />
<line x1="1491.1" y1="955.0" x2="1491.1" y2="1461.0" stroke-width="1.7" stroke-dasharray="95 7 12 7 120 7 12 7 200 7 12 7"/>
<line x1="1491.2" y1="1509.6" x2="1491.2" y2="1684.6" stroke-width="1.7" stroke-dasharray="90 7 12 7"/>
<line x1="1481.8" y1="570.0" x2="1481.8" y2="629.0" stroke-width="1.7" />
<path d="M1438.5,1475 Q1458,1466 1475,1461.5 T1503.8,1452 Q1530,1446 1557.7,1442.3 T1615.4,1438.5 Q1645,1438.5 1673,1441.5 T1711.5,1448 Q1735,1453 1757.7,1459.6 T1799.5,1475.7 Q1840,1491 1881.9,1502 T1980.8,1510.3 Q2003,1510 2025.3,1507.7 T2079.7,1497.1 Q2100,1493.5 2119.9,1488.9 T2158.8,1475.7" stroke-width="1.7" fill="none" stroke-dasharray="18 9"/>
<path d="M1438.5,1533.8 Q1448,1529 1457.7,1528 T1475,1530 Q1490,1534.5 1503.8,1537.7 T1527,1538.5 Q1536,1537.5 1544.2,1534.6" stroke-width="1.7" fill="none" stroke-dasharray="22 7"/>
<line x1="1475.3" y1="1530.0" x2="1475.3" y2="1559.6" stroke-width="3.6" />
<line x1="1506.8" y1="1538.0" x2="1506.8" y2="1559.6" stroke-width="3.6" />
<rect x="1473.8" y="1559.6" width="34.7" height="17.4" rx="2" stroke-width="3.6" fill="none" />
<line x1="1475.5" y1="1577.0" x2="1475.5" y2="1603.8" stroke-width="3.6" />
<line x1="1506.6" y1="1577.0" x2="1506.6" y2="1603.8" stroke-width="3.6" />
<path d="M1475.5,1603.8 H1506.6 M1475.5,1603.8 Q1473,1609 1477.5,1614.2 H1504.6 Q1509,1609 1506.6,1603.8" stroke-width="3.6" fill="none" />
<rect x="1449.1" y="1617.1" width="83.7" height="44.9" rx="4.5" stroke-width="0" fill="#000" stroke="none"/>
<path d="M1453.0,1623.2 Q1460.2,1619.8 1467.3,1623.2 V1656.2 Q1460.2,1659.6 1453.0,1656.2 Z" fill="#fff" stroke="none"/>
<path d="M1474.6,1623.2 Q1491.0,1619.8 1507.5,1623.2 V1656.2 Q1491.0,1659.6 1474.6,1656.2 Z" fill="#fff" stroke="none"/>
<path d="M1514.6,1623.2 Q1522.0,1619.8 1529.4,1623.2 V1656.2 Q1522.0,1659.6 1514.6,1656.2 Z" fill="#fff" stroke="none"/>
<line x1="1491.2" y1="1618.0" x2="1491.2" y2="1661.0" stroke-width="1.7" />
<line x1="1477.0" y1="1615.8" x2="1505.0" y2="1615.8" stroke-width="3.6" />
<line x1="2073.1" y1="958.1" x2="2073.1" y2="1055.0" stroke-width="1.7" />
<line x1="2073.1" y1="1063.0" x2="2073.1" y2="1088.0" stroke-width="1.7" />
<line x1="2073.1" y1="1096.0" x2="2073.1" y2="1273.0" stroke-width="1.7" />
<line x1="2073.1" y1="1281.0" x2="2073.1" y2="1286.0" stroke-width="1.7" />
<line x1="2073.1" y1="1294.0" x2="2073.1" y2="1314.0" stroke-width="1.7" />
<line x1="2073.1" y1="1324.0" x2="2073.1" y2="1426.3" stroke-width="1.7" />
<rect x="1978.5" y="989.5" width="189.5" height="9.2" rx="4" stroke-width="3.6" fill="none" />
<line x1="2023.0" y1="998.7" x2="2023.0" y2="1046.0" stroke-width="3.6" />
<line x1="2122.5" y1="998.7" x2="2122.5" y2="1046.0" stroke-width="3.6" />
<line x1="2023.0" y1="1027.4" x2="2122.5" y2="1027.4" stroke-width="4.2" />
<path d="M2011.2,1034.5 L2019,1033.3 H2126.5 L2134.8,1034.5 L2126.5,1035.7 H2019 Z" stroke-width="2.2" fill="#000" />
<line x1="2023.0" y1="1040.9" x2="2122.5" y2="1040.9" stroke-width="3" />
<path d="M1980,1049.7 H2166.5" stroke-width="6.8" fill="none" stroke-linecap="round"/>
<path d="M1979.5,1052.5 Q1987,1056.5 2004.6,1060.8 M2167,1052.5 Q2159.5,1056.5 2141.5,1060.8" stroke-width="3" fill="none" />
<rect x="1983.0" y="1062.2" width="179.7" height="8.7" rx="0" stroke-width="3.6" fill="none" />
<path d="M2011.4,1070.9 L2012.4,1091.0 L2133.0,1091.0 L2134.0,1070.9" stroke-width="3.6" fill="none" />
<path d="M2020.5,1091.1 L2022.1,1099.1 L2046.0,1150.0 L2057.2,1166.8 L2087.5,1166.8 L2098.6,1150.0 L2123.3,1099.1 L2124.9,1091.1" stroke-width="3.6" fill="none" stroke-linejoin="round"/>
<rect x="2041.5" y="1089.5" width="61.9" height="6.4" rx="0" stroke-width="0" fill="#000" stroke="none"/>
<path d="M2041.3,1092 L2051.6,1092 L2051.6,1107 L2061.2,1135.7 H2085.1 L2093,1110.2 V1092 H2103.4 L2102.6,1105.4 L2083.5,1158 H2062 Z" fill="#000" stroke="#000" stroke-width="1.2" stroke-linejoin="round"/>
<path d="M2066,1141 H2080 V1155 H2066Z" fill="#fff" stroke="none"/>
<line x1="2063.7" y1="1166.8" x2="2063.7" y2="1223.5" stroke-width="3.6" />
<line x1="2081.0" y1="1166.8" x2="2081.0" y2="1223.5" stroke-width="3.6" />
<path d="M1992.3,1223.5 H2153.9 L2163.5,1228 V1231.8 H1982.5 V1228 Z" fill="#000" stroke="#000" stroke-width="2" stroke-linejoin="round"/>
<rect x="1980.0" y="1233.6" width="184.7" height="17.9" rx="0" stroke-width="3.6" fill="none" />
<line x1="1985.0" y1="1231.6" x2="2160.0" y2="1231.6" stroke-width="1.1" stroke="#fff"/>
<rect x="1998.0" y="1251.5" width="148.6" height="47.2" rx="0" stroke-width="3.6" fill="none" />
<line x1="2009.5" y1="1298.7" x2="2009.5" y2="1305.3" stroke-width="2" />
<line x1="2012.5" y1="1298.7" x2="2012.5" y2="1305.3" stroke-width="2" />
<line x1="2132.0" y1="1298.7" x2="2132.0" y2="1305.3" stroke-width="2" />
<line x1="2135.0" y1="1298.7" x2="2135.0" y2="1305.3" stroke-width="2" />
<rect x="1998.0" y="1305.3" width="148.6" height="44.5" rx="0" stroke-width="3.6" fill="none" />
<line x1="2025.3" y1="1349.8" x2="2025.3" y2="1508.7" stroke-width="3.6" />
<line x1="2119.9" y1="1349.8" x2="2119.9" y2="1488.9" stroke-width="3.6" />
<line x1="1998.9" y1="1349.8" x2="1998.9" y2="1437.8" stroke-width="1.7" />
<line x1="2145.6" y1="1349.8" x2="2145.6" y2="1437.8" stroke-width="1.7" />
<line x1="1986.1" y1="95.5" x2="1986.1" y2="521.7" stroke-width="1.7" />
<line x1="1969.2" y1="198.3" x2="1969.2" y2="641.5" stroke-width="1.7" />
<line x1="1969.2" y1="523.6" x2="1973.2" y2="641.3" stroke-width="1.7" />
<line x1="1966.0" y1="430.0" x2="1969.0" y2="523.6" stroke-width="1.7" stroke-dasharray="14 5"/>
<line x1="1460.2" y1="107.0" x2="2008.5" y2="107.0" stroke-width="1.7" />
<line x1="1459.8" y1="117.8" x2="1503.8" y2="96.2" stroke-width="1.7" />
<line x1="1964.1" y1="117.8" x2="2008.1" y2="96.2" stroke-width="1.7" />
<line x1="1460.2" y1="210.3" x2="1991.3" y2="210.3" stroke-width="1.7" />
<line x1="1459.8" y1="221.1" x2="1503.8" y2="199.5" stroke-width="1.7" />
<line x1="1947.2" y1="221.1" x2="1991.2" y2="199.5" stroke-width="1.7" />
<g transform="translate(1624.0,85.0) rotate(0)"><g transform="scale(1.0297,1)"><path d="M13.47,0 V-39.38 M0.17,-30.58 H7.70 Q12.93,-31.62 13.47,-38.77" stroke-width="3.35" fill="none"/><text x="25.08" y="0" font-size="55">7</text><path d="M74.64,0 V-39.38 M61.33,-30.58 H68.87 Q74.09,-31.62 74.64,-38.77" stroke-width="3.35" fill="none"/></g><path d="M116.8,-55.2 H103.3 V15.1 H116.8" stroke-width="1.8" fill="none"/><g transform="translate(118.5,0)"><g transform="scale(1.1033,1)"><text x="-2.79" y="0" font-size="55">6</text></g></g><g transform="translate(150.7,-25.2) scale(1,1.09)"><g transform="scale(1.0000,1)"><text x="-1.22" y="0" font-size="32" class="sm">3</text></g></g><g transform="translate(169.0,7.0) scale(1.08,1.06)"><g transform="scale(1.0000,1)"><text x="-0.73" y="0" font-size="32" class="sm">4</text></g></g><line x1="153.5" y1="5.8" x2="184.9" y2="-40.8" stroke-width="4.6" stroke-linecap="round"/><line x1="193.9" y1="-39.3" x2="193.9" y2="-26.8" stroke-width="3"/><line x1="201.7" y1="-39.3" x2="201.7" y2="-26.8" stroke-width="3"/><path d="M207.6,-55.2 H221.1 V15.1 H207.6" stroke-width="1.8" fill="none"/></g>
<g transform="translate(1598.9,187.8) rotate(0)"><g transform="scale(1.0495,1)"><path d="M13.47,0 V-39.38 M0.17,-30.58 H7.70 Q12.93,-31.62 13.47,-38.77" stroke-width="3.35" fill="none"/><text x="25.08" y="0" font-size="55">6</text><text x="55.67" y="0" font-size="55">5</text></g><path d="M116.8,-55.2 H103.3 V15.1 H116.8" stroke-width="1.8" fill="none"/><g transform="translate(118.5,0)"><g transform="scale(1.1033,1)"><text x="-2.79" y="0" font-size="55">6</text></g></g><g transform="translate(153.9,-25.2) scale(1,1.09)"><g transform="scale(1.0000,1)"><path d="M7.84,0 V-22.91 M0.10,-17.79 H4.48 Q7.52,-18.40 7.84,-22.56" stroke-width="2.30" fill="none"/></g></g><g transform="translate(169.8,7.0) scale(1.08,1.06)"><g transform="scale(1.0000,1)"><text x="-1.61" y="0" font-size="32" class="sm">2</text></g></g><line x1="153.5" y1="5.8" x2="184.9" y2="-40.8" stroke-width="4.6" stroke-linecap="round"/><line x1="193.9" y1="-39.3" x2="193.9" y2="-26.8" stroke-width="3"/><line x1="201.7" y1="-39.3" x2="201.7" y2="-26.8" stroke-width="3"/><path d="M207.6,-55.2 H221.1 V15.1 H207.6" stroke-width="1.8" fill="none"/></g>
<line x1="1866.0" y1="327.6" x2="2343.5" y2="327.6" stroke-width="1.7" />
<line x1="2332.0" y1="305.0" x2="2332.0" y2="754.0" stroke-width="1.7" />
<line x1="2320.7" y1="305.6" x2="2343.3" y2="349.6" stroke-width="1.7" />
<line x1="2320.7" y1="731.7" x2="2343.3" y2="775.7" stroke-width="1.7" />
<line x1="1648.1" y1="753.7" x2="2343.8" y2="753.7" stroke-width="1.7" />
<g transform="translate(2307.2,670.4) rotate(-90)"><g transform="scale(1.0597,1)"><path d="M13.47,0 V-39.38 M0.17,-30.58 H7.70 Q12.93,-31.62 13.47,-38.77" stroke-width="3.35" fill="none"/><text x="25.08" y="0" font-size="55">4</text><text x="55.67" y="0" font-size="55">4</text></g><path d="M120.4,-55.2 H106.9 V15.1 H120.4" stroke-width="1.8" fill="none"/><g transform="translate(122.1,0)"><g transform="scale(1.0738,1)"><text x="-2.20" y="0" font-size="55">5</text></g></g><g transform="translate(154.3,-25.2) scale(1,1.09)"><g transform="scale(1.0000,1)"><text x="-1.28" y="0" font-size="32" class="sm">5</text></g></g><g transform="translate(173.2,7.0) scale(1.08,1.06)"><g transform="scale(1.0000,1)"><text x="-1.39" y="0" font-size="32" class="sm">8</text></g></g><line x1="157.1" y1="5.8" x2="188.5" y2="-40.8" stroke-width="4.6" stroke-linecap="round"/><line x1="197.5" y1="-39.3" x2="197.5" y2="-26.8" stroke-width="3"/><line x1="205.3" y1="-39.3" x2="205.3" y2="-26.8" stroke-width="3"/><path d="M211.2,-55.2 H224.7 V15.1 H211.2" stroke-width="1.8" fill="none"/></g>
<line x1="1986.4" y1="523.4" x2="2207.0" y2="523.4" stroke-width="1.7" />
<line x1="2195.2" y1="488.0" x2="2195.2" y2="789.6" stroke-width="1.7" />
<line x1="2183.9" y1="501.4" x2="2206.5" y2="545.4" stroke-width="1.7" />
<line x1="2183.9" y1="731.7" x2="2206.5" y2="775.7" stroke-width="1.7" />
<g transform="translate(2171.0,738.2) rotate(-90)"><g transform="scale(1.0721,1)"><text x="-2.82" y="0" font-size="55">7</text><text x="27.77" y="0" font-size="55">8</text></g><path d="M88.7,-55.2 H75.2 V15.1 H88.7" stroke-width="1.8" fill="none"/><g transform="translate(90.4,0)"><g transform="scale(1.0738,1)"><text x="-2.09" y="0" font-size="55">3</text></g></g><g transform="translate(125.8,-25.2) scale(1,1.09)"><g transform="scale(1.0000,1)"><path d="M7.84,0 V-22.91 M0.10,-17.79 H4.48 Q7.52,-18.40 7.84,-22.56" stroke-width="2.30" fill="none"/></g></g><g transform="translate(141.5,7.0) scale(1.08,1.06)"><g transform="scale(1.0000,1)"><text x="-1.39" y="0" font-size="32" class="sm">8</text></g></g><line x1="125.4" y1="5.8" x2="156.8" y2="-40.8" stroke-width="4.6" stroke-linecap="round"/><line x1="165.8" y1="-39.3" x2="165.8" y2="-26.8" stroke-width="3"/><line x1="173.6" y1="-39.3" x2="173.6" y2="-26.8" stroke-width="3"/><path d="M179.5,-55.2 H193.0 V15.1 H179.5" stroke-width="1.8" fill="none"/></g>
<path d="M1934.2,623.7 A106,106 0 0 0 2055.4,586.7" stroke-width="1.7" fill="none" />
<line x1="1956.5" y1="647.2" x2="1990.2" y2="613.0" stroke-width="1.7" />
<path d="M1946,632 Q1957,629.5 1969.5,629.3" stroke-width="1.7" fill="none" />
<g transform="translate(1995.5,612.5) rotate(-30)"><g transform="scale(1.0000,1)"><text x="-2.77" y="0" font-size="55">2</text></g></g>
<circle cx="2014.5" cy="565.9" r="7.0" stroke-width="2.3" fill="none"/>
<line x1="1969.3" y1="524.0" x2="1971.3" y2="584.0" stroke-width="2.8" />
<line x1="1304.9" y1="753.5" x2="1334.8" y2="753.5" stroke-width="1.7" />
<line x1="1317.2" y1="753.5" x2="1317.2" y2="1659.6" stroke-width="1.7" />
<line x1="1305.9" y1="731.5" x2="1328.5" y2="775.5" stroke-width="1.7" />
<line x1="1305.9" y1="1637.6" x2="1328.5" y2="1681.6" stroke-width="1.7" />
<line x1="1305.0" y1="1659.6" x2="1452.0" y2="1659.6" stroke-width="1.7" />
<g transform="translate(1293.0,1225.0) rotate(-90)"><g transform="scale(1.0217,1)"><text x="-1.26" y="0" font-size="55">4</text><text x="29.33" y="0" font-size="55">9</text><text x="59.91" y="0" font-size="55">6</text></g><path d="M120.5,-55.2 H107.0 V15.1 H120.5" stroke-width="1.8" fill="none"/><g transform="translate(119.5,0)"><g transform="scale(1.1401,1)"><path d="M13.47,0 V-39.38 M0.17,-30.58 H7.70 Q12.93,-31.62 13.47,-38.77" stroke-width="3.35" fill="none"/><text x="25.08" y="0" font-size="55">9</text></g></g><g transform="translate(186.6,-25.2) scale(1,1.09)"><g transform="scale(1.0000,1)"><path d="M7.84,0 V-22.91 M0.10,-17.79 H4.48 Q7.52,-18.40 7.84,-22.56" stroke-width="2.30" fill="none"/></g></g><g transform="translate(202.5,7.0) scale(1.08,1.06)"><g transform="scale(1.0000,1)"><text x="-1.61" y="0" font-size="32" class="sm">2</text></g></g><line x1="186.2" y1="5.8" x2="217.6" y2="-40.8" stroke-width="4.6" stroke-linecap="round"/><line x1="226.6" y1="-39.3" x2="226.6" y2="-26.8" stroke-width="3"/><line x1="234.4" y1="-39.3" x2="234.4" y2="-26.8" stroke-width="3"/><path d="M240.3,-55.2 H253.8 V15.1 H240.3" stroke-width="1.8" fill="none"/></g>
<line x1="1462.7" y1="1655.8" x2="1462.7" y2="1759.6" stroke-width="1.7" />
<line x1="1518.0" y1="1655.8" x2="1518.0" y2="1759.6" stroke-width="1.7" />
<line x1="1427.7" y1="1747.3" x2="1736.5" y2="1747.3" stroke-width="1.7" />
<line x1="1440.7" y1="1758.1" x2="1484.7" y2="1736.5" stroke-width="1.7" />
<line x1="1496.0" y1="1758.1" x2="1540.0" y2="1736.5" stroke-width="1.7" />
<g transform="translate(1579.6,1733.8) rotate(0)"><g transform="scale(1.0591,1)"><text x="-2.77" y="0" font-size="55">G</text><path d="M74.27,0 V-39.38 M60.96,-30.58 H68.50 Q73.72,-31.62 74.27,-38.77" stroke-width="3.35" fill="none"/><text x="85.88" y="0" font-size="55">/</text><text x="101.16" y="0" font-size="55">2</text></g></g>
<line x1="1792.9" y1="1426.3" x2="2182.5" y2="1426.3" stroke-width="1.7" />
<line x1="1976.4" y1="1437.3" x2="2021.4" y2="1415.3" stroke-width="1.7" />
<line x1="2123.1" y1="1437.3" x2="2168.1" y2="1415.3" stroke-width="1.7" />
<g transform="translate(1811.0,1414.7) rotate(0)"><g transform="scale(1.0215,1)"><text x="-2.77" y="0" font-size="55">G</text><path d="M74.27,0 V-39.38 M60.96,-30.58 H68.50 Q73.72,-31.62 74.27,-38.77" stroke-width="3.35" fill="none"/></g></g></svg></body></html>
